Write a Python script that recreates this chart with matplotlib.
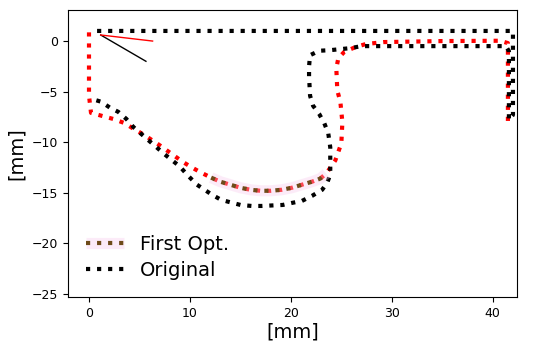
import matplotlib
matplotlib.use("Agg")
import matplotlib.pyplot as plt
from matplotlib.lines import Line2D

# Original path (black)
orig_x = [0.8, 42.0, 42.0, 41.6, 41.6, 41.3, 27.0, 25.9, 23.9, 22.8, 21.9, 21.8, 21.8, 21.9, 22.2,
          22.8, 23.3, 23.7, 23.9, 23.9, 23.6, 23.1, 22.1, 21.1, 20.1, 19.2, 17.1, 16.1, 15.0,
          13.1, 12.2, 10.7, 9.8, 9.0, 7.5, 6.0, 4.4, 3.7, 2.9, 2.1, 1.2, 0.2]
orig_y = [1.0, 1.0, -7.3, -7.8, -1.0, -0.5, -0.5, -0.7, -0.9, -0.96, -1.4, -2.5, -3.5, -5.4, -6.4,
          -7.2, -8.1, -9.1, -10.5, -13.2, -14.0, -14.7, -15.3, -15.8, -16.0, -16.2, -16.3, -16.3, -16.2,
          -15.7, -15.2, -14.2, -13.3, -12.4, -11.2, -9.9, -8.5, -7.7, -7.0, -6.6, -6.0, -5.7]

# Optimised path (red)
opt_x = [0.0, 0.0, 0.2, 1.3, 2.4, 3.5, 4.3, 5.5, 7.0, 9.3, 10.2, 11.1, 12.1, 13.0, 14.0, 15.0,
         16.0, 17.0, 18.0, 19.1, 20.1, 21.1, 22.1, 22.9, 23.5, 24.4, 25.0, 25.1, 24.9, 24.6,
         24.5, 24.7, 25.3, 26.4, 27.4, 29.2, 35.0, 40.7, 41.5, 41.5]
opt_y = [0.86, -5.4, -7.1, -7.4, -7.7, -8.1, -8.6, -9.3, -10.3, -11.95, -12.5, -13.0, -13.5, -13.9,
         -14.2, -14.5, -14.7, -14.8, -14.8, -14.7, -14.5, -14.2, -13.9, -13.6, -13.1, -11.8, -10.1,
         -8.0, -6.0, -4.9, -2.7, -1.7, -1.06, -0.6, -0.3, -0.1, 0.0, 0.03, -0.2, -8.5]

# First Opt. highlighted segment (brown)
first_x = [12.1, 13.0, 14.0, 15.0, 16.0, 17.0, 18.0, 19.1, 20.1, 21.1, 22.1, 22.9, 23.5]
first_y = [-13.5, -13.9, -14.2, -14.5, -14.7, -14.8, -14.8, -14.7, -14.5, -14.2, -13.9, -13.6, -13.1]

# direction indicator lines
black_dir_x = [1.16, 5.64]
black_dir_y = [0.6, -2.0]
red_dir_x = [1.16, 6.3]
red_dir_y = [0.6, 0.0]

fig = plt.figure(figsize=(5.5, 3.49), dpi=100)
ax = fig.add_axes([68/550, 1-297/349, 449/550, 287/349])

ax.plot(opt_x, opt_y, color='red', linestyle=':', linewidth=3)
ax.plot(orig_x, orig_y, color='black', linestyle=':', linewidth=3)
ax.plot(first_x, first_y, color='#f8c8ec', linewidth=8, alpha=0.35, solid_capstyle='butt')
ax.plot(first_x, first_y, color='#6e4b1a', linestyle=':', linewidth=3)
ax.plot(black_dir_x, black_dir_y, color='black', linewidth=1)
ax.plot(red_dir_x, red_dir_y, color='red', linewidth=1)

ax.set_xlim(-2.08, 42.4)
ax.set_ylim(-25.3, 3.07)
ax.set_xticks([0, 10, 20, 30, 40])
ax.set_yticks([0, -5, -10, -15, -20, -25])
ax.tick_params(labelsize=9)
ax.set_xlabel('[mm]', fontsize=14, labelpad=2)
ax.set_ylabel('[mm]', fontsize=14)

h_glow = Line2D([], [], color='#f8c8ec', linewidth=8, alpha=0.35, solid_capstyle='butt')
h_brown = Line2D([], [], color='#6e4b1a', linestyle=':', linewidth=3)
h_orig = Line2D([], [], color='black', linestyle=':', linewidth=3)
ax.legend([(h_glow, h_brown), h_orig], ['First Opt.', 'Original'], loc='lower left',
          fontsize=14, frameon=False, handlelength=2.0, labelspacing=0.35,
          bbox_to_anchor=(0.0, 0.0))

fig.savefig('out.png', dpi=100)
